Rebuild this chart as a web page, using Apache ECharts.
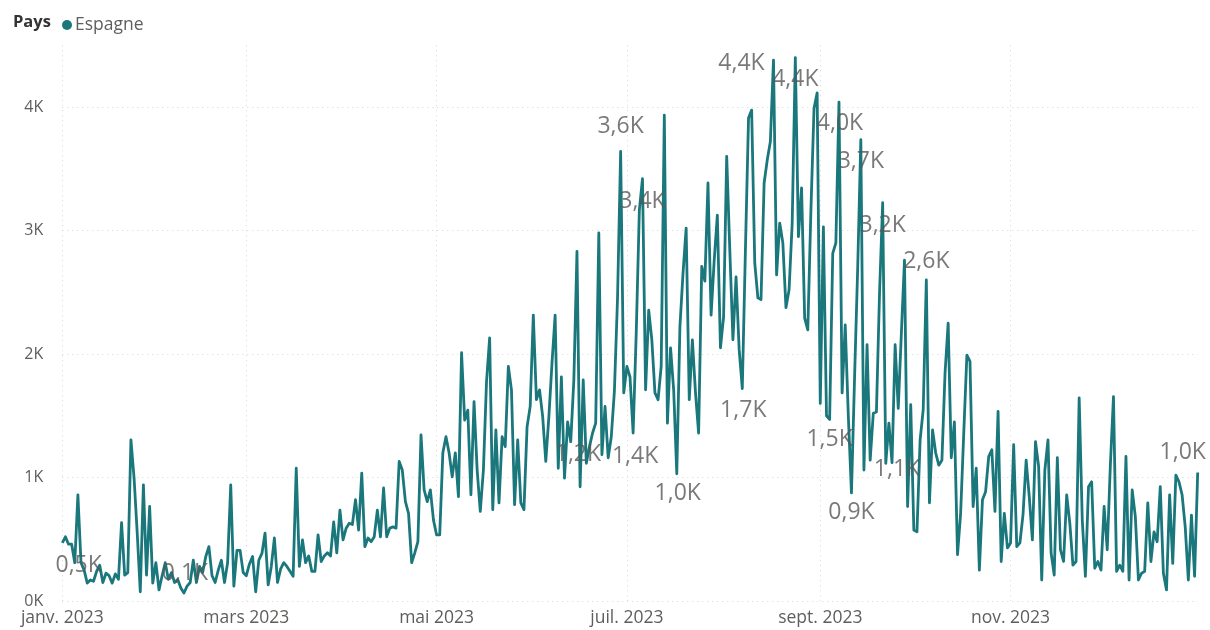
<!DOCTYPE html>
<html>
<head>
<meta charset="utf-8">
<script src="https://cdn.jsdelivr.net/npm/echarts@6/dist/echarts.min.js"></script>
<style>
html,body{margin:0;padding:0;background:#ffffff;}
#chart{width:1210px;height:630px;}
</style>
</head>
<body>
<div id="chart"></div>
<script>
// Daily values (Espagne), 2023, one array per month
const jan = [470,520,460,460,310,860,310,250,145,170,160,240,290,150,225,205,145,220,175,635,210,230,1305,1000,560,75,940,210,765,145,310];
const feb = [90,205,310,175,230,150,175,105,65,120,150,330,150,280,230,360,440,205,150,250,330,150,310,940,120,410,410,230];
const mar = [205,300,360,75,330,385,550,130,280,510,150,260,310,280,240,200,1075,280,495,310,365,240,240,535,320,365,390,365,640,390,735];
const apr = [495,590,630,620,820,575,1035,440,510,480,520,735,520,915,520,590,600,590,1130,1060,805,710,310,390,480,1345,900,805,900,655];
const may = [535,535,1200,1330,1200,1005,1200,845,2010,1465,1545,860,1615,1060,725,1060,1775,2130,740,1385,795,1330,1250,1900,1710,780,1305,795,740,1410,1575];
const jun = [2315,1630,1710,1495,1130,1495,1930,2315,1075,1815,995,1450,1290,1790,2830,925,1790,1115,1250,1360,1440,2980,1185,1575,1160,1330,1700,2450,3640,1685];
const jul = [1900,1815,1360,2170,3165,3420,1710,2355,2115,1685,1630,1900,3935,1440,2050,1710,1030,2220,2655,3020,1630,2115,1685,1360,2710,2590,3385,2315,2760,3125,2050];
const aug = [2300,3600,2840,2115,2625,2035,1720,2840,3910,3975,2735,2455,2440,3385,3570,3720,4380,2640,3060,2900,2375,2520,3060,4400,2950,3345,2290,2195,3165,3990,4115];
const sep = [1600,3030,1500,1470,2815,2900,4040,1685,2235,1495,875,1815,2700,3735,1060,2075,1140,1520,1530,2495,3225,1115,1440,1120,2075,1560,2170,2760,765,1590];
const oct = [575,560,1300,1550,2600,795,1385,1200,1100,1140,1845,2250,1160,1450,375,710,1360,1990,1940,765,1075,250,820,885,1170,1225,725,1535,320,710,430];
const nov = [470,1265,440,470,700,1140,845,495,1290,1090,170,1060,1305,390,210,1160,415,320,860,630,290,320,1645,655,200,925,965,265,320,250];
const dec = [765,415,1100,1655,240,290,240,1170,170,900,685,170,225,240,795,320,560,480,925,225,90,860,305,1020,965,860,600,170,695,200,1040];

const values = [].concat(jan, feb, mar, apr, may, jun, jul, aug, sep, oct, nov, dec);

// Categories: one per day of 2023
const categories = values.map(function (_, i) {
  const d = new Date(Date.UTC(2023, 0, 1 + i));
  return d.toISOString().slice(0, 10);
});

// X tick labels
const xTickDates = ['2023-01-01','2023-03-01','2023-05-01','2023-07-01','2023-09-01','2023-11-01'];
const xTickLabels = ['janv. 2023','mars 2023','mai 2023','juil. 2023','sept. 2023','nov. 2023'];

// Y ticks
const yTickValues = [0, 1000, 2000, 3000, 4000];
const yTickLabels = ['0K', '1K', '2K', '3K', '4K'];

// Days (index) that carry a data label
const labelDays = [3, 39, 173, 183, 179, 186, 197, 218, 228, 235, 249, 256, 263, 277, 246, 253, 266, 364];

// Label placement (style, not data): offset of label centre from the point
const labelOffsets = {
  3: [7, 21], 39: [1, -20], 173: [-24, 0], 183: [2, 23], 179: [0, -25],
  186: [0, 23], 197: [1, 20], 218: [1, 22], 228: [-32, 3], 235: [0, 22],
  249: [1, 21], 256: [0, 22], 263: [0, 23], 277: [0, -18], 246: [0, 20],
  253: [0, 20], 266: [5, 7], 364: [-15, -20]
};

const FONT = "'Segoe UI', 'Open Sans', 'Noto Sans', sans-serif";
const isTick = function (idx) { return xTickDates.indexOf(categories[idx]) >= 0; };

const labelData = labelDays.map(function (d) {
  return {
    value: [categories[d], values[d]],
    label: { offset: labelOffsets[d] }
  };
});

const chart = echarts.init(document.getElementById('chart'), null, { renderer: 'canvas' });
chart.setOption({
  animation: false,
  backgroundColor: '#ffffff',
  title: {
    text: 'Pays',
    left: 8, top: 9,
    textStyle: { fontFamily: FONT, fontSize: 16.5, fontWeight: 'bold', color: '#333333' }
  },
  legend: {
    data: ['Espagne'],
    left: 57, top: 11,
    icon: 'circle', itemWidth: 10, itemHeight: 10, itemGap: 10,
    textStyle: { fontFamily: FONT, fontSize: 17.5, color: '#605E5C', padding: [0, 0, 0, -2] }
  },
  grid: { left: 62.3, right: 12.3, top: 45.25, bottom: 29, containLabel: false, outerBoundsMode: 'none' },
  xAxis: {
    type: 'category',
    data: categories,
    boundaryGap: false,
    axisLine: { show: false },
    axisTick: { show: false },
    axisLabel: {
      interval: function (idx) { return isTick(idx); },
      formatter: function (v) { const k = xTickDates.indexOf(v); return k >= 0 ? xTickLabels[k] : ''; },
      fontFamily: FONT, fontSize: 17.5, color: '#605E5C', margin: 8
    },
    splitLine: {
      show: true,
      interval: function (idx) { return isTick(idx); },
      lineStyle: { type: [1, 4], color: '#d6d6d6', width: 1 }
    }
  },
  yAxis: {
    type: 'value',
    min: 0, max: 4500, interval: 1000,
    axisLine: { show: false },
    axisTick: { show: false },
    axisLabel: {
      showMaxLabel: false,
      formatter: function (v) { const k = yTickValues.indexOf(v); return k >= 0 ? yTickLabels[k] : ''; },
      fontFamily: FONT, fontSize: 16, color: '#605E5C', margin: 19
    },
    splitLine: {
      show: true, showMaxLine: false,
      lineStyle: { type: [1, 4], color: '#d6d6d6', width: 1 }
    }
  },
  series: [
    {
      name: 'Espagne',
      type: 'line',
      data: values,
      symbol: 'none',
      showSymbol: false,
      color: '#1a777c',
      lineStyle: { width: 2.8, color: '#1a777c', join: 'round' },
      z: 2
    },
    {
      name: 'labels',
      type: 'scatter',
      data: labelData,
      symbolSize: 1,
      itemStyle: { color: 'rgba(0,0,0,0)' },
      z: 5,
      silent: true,
      label: {
        show: true,
        position: 'inside',
        formatter: function (p) { return (Math.round(p.value[1] / 100) / 10).toFixed(1).replace('.', ',') + 'K'; },
        fontFamily: FONT, fontSize: 23, color: '#585858'
      }
    }
  ]
});
</script>
</body>
</html>
